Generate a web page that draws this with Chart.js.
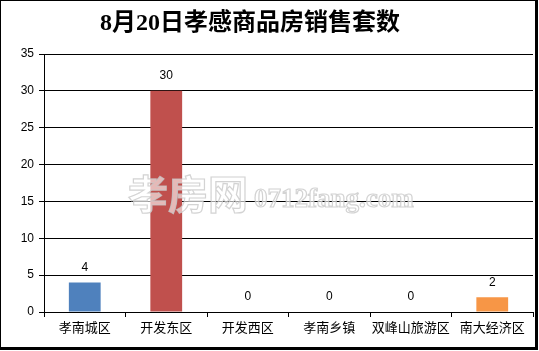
<!DOCTYPE html>
<html lang="zh">
<head>
  <meta charset="UTF-8" />
  <title>8月20日孝感商品房销售套数</title>
  <script src="https://cdn.jsdelivr.net/npm/chart.js"></script>
  <style>
    html, body { margin: 0; padding: 0; background: #fff; }
    #wrap { position: relative; width: 539px; height: 351px; }
    #chart { position: absolute; left: 0; top: 0; }
    #frame {
      position: absolute; left: 0; top: 0; width: 538px; height: 350px;
      box-sizing: border-box; pointer-events: none;
      border-top: 1px solid #000; border-left: 1px solid #000;
      border-right: 3px solid #000; border-bottom: 3px solid #000;
    }
  </style>
</head>
<body>
  <div id="wrap">
    <canvas id="chart" width="539" height="351"></canvas>
    <div id="frame"></div>
  </div>

  <script>
    const titleText = "8月20日孝感商品房销售套数";
    const districts = ["孝南城区", "开发东区", "开发西区", "孝南乡镇", "双峰山旅游区", "南大经济区"];
    const sales = [4, 30, 0, 0, 0, 2];
    const barColors = ["#4F81BD", "#C0504D", "#9BBB59", "#8064A2", "#4BACC6", "#F79646"];
    const yTicks = [0, 5, 10, 15, 20, 25, 30, 35];

    // title, value labels and the site watermark
    const extras = {
      id: "extras",
      afterDraw(chart) {
        const c = chart.ctx;
        c.save();
        c.fillStyle = "#000";
        c.textAlign = "center";
        c.textBaseline = "middle";
        c.font = "bold 24px 'Liberation Serif', 'Noto Sans CJK SC'";
        c.fillText(titleText, 250, 24);

        c.font = "12px 'Liberation Sans', 'DejaVu Sans'";
        chart.getDatasetMeta(0).data.forEach((bar, i) => {
          c.fillText(String(sales[i]), bar.x, bar.y - 15);
        });

        c.textAlign = "left";
        c.textBaseline = "alphabetic";
        c.lineWidth = 1.2;
        c.fillStyle = "rgba(255,255,255,0.6)";
        c.strokeStyle = "rgba(200,200,200,0.8)";
        c.font = "bold 40px 'Noto Sans CJK SC'";
        c.fillText("孝房网", 128, 209);
        c.strokeText("孝房网", 128, 209);
        c.font = "bold 27px 'Liberation Serif'";
        c.fillText("0712fang.com", 254, 207);
        c.strokeText("0712fang.com", 254, 207);
        c.restore();
      }
    };

    new Chart(document.getElementById("chart"), {
      type: "bar",
      data: {
        labels: districts,
        datasets: [{
          data: sales,
          backgroundColor: barColors,
          borderWidth: 0,
          barPercentage: 0.39,
          categoryPercentage: 1
        }]
      },
      options: {
        responsive: false,
        animation: false,
        layout: { padding: { top: 54, right: 6, left: 0, bottom: 0 } },
        plugins: {
          legend: { display: false },
          tooltip: { enabled: false }
        },
        scales: {
          x: {
            grid: { drawOnChartArea: false, drawTicks: true, tickLength: 5, color: "#000", offset: true },
            border: { color: "#000" },
            ticks: { color: "#000", padding: 2, maxRotation: 0, autoSkip: false,
                     font: { family: "'Noto Sans CJK SC'", size: 13 } },
            afterFit: s => { s.height = 39; }
          },
          y: {
            min: 0,
            max: 35,
            afterBuildTicks: s => { s.ticks = yTicks.map(v => ({ value: v })); },
            grid: { color: "#000", tickLength: 5 },
            border: { color: "#000" },
            ticks: { color: "#000", padding: 5,
                     font: { family: "'Liberation Sans'", size: 12 } },
            afterFit: s => { s.width = 44; }
          }
        }
      },
      plugins: [extras]
    });
  </script>
</body>
</html>
